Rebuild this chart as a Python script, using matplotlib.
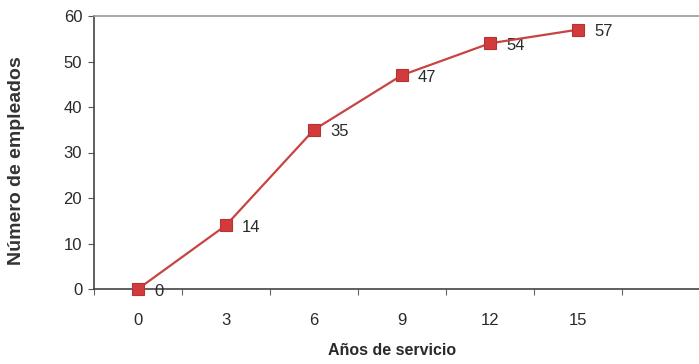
import matplotlib
matplotlib.use('Agg')
import matplotlib.pyplot as plt

# años de servicio vs número de empleados (acumulado)
anos = ['0', '3', '6', '9', '12', '15']
empleados = [0, 14, 35, 47, 54, 57]
y_ticks = [0, 10, 20, 30, 40, 50, 60]

plt.rcParams['font.family'] = ['Liberation Sans', 'DejaVu Sans']

fig = plt.figure(figsize=(6.99, 3.64), dpi=100, facecolor='white')
# plot area runs slightly past the right edge of the figure (7 category slots)
ax = fig.add_axes([94 / 699, 1 - 289 / 364, 616 / 699, 273 / 364])

x = list(range(len(anos)))
ax.plot(x, empleados, color='#c74442', lw=1.6, marker='s', markersize=9,
        markerfacecolor='#d23b3b', markeredgecolor='#b83232', markeredgewidth=0.8,
        zorder=5, clip_on=False)

for xi, v in zip(x, empleados):
    ax.annotate(str(v), (xi, v), xytext=(11.5, -1.5), textcoords='offset points',
                ha='left', va='center', fontsize=12, color='#2a2a2a')

ax.set_xlim(-0.5, 6.5)
ax.set_ylim(0, 60)
ax.set_xticks(x)
ax.set_xticklabels(anos)
ax.set_xticks([i + 0.5 for i in range(-1, 7)], minor=True)
ax.tick_params(axis='x', which='major', length=0, pad=17, labelsize=12,
               colors='#2a2a2a')
ax.tick_params(axis='x', which='minor', length=4, direction='out', width=0.8,
               color='#666666')
ax.set_yticks(y_ticks)
ax.tick_params(axis='y', which='major', length=4, direction='out', width=0.8,
               color='#555555', labelsize=12, labelcolor='#2a2a2a', pad=4.5)

ax.spines['left'].set_color('#444444')
ax.spines['bottom'].set_color('#444444')
ax.spines['left'].set_linewidth(1.2)
ax.spines['bottom'].set_linewidth(1.2)
ax.spines['top'].set_color('#9a9a9a')
ax.spines['top'].set_linewidth(1.2)
ax.spines['right'].set_visible(False)

ax.set_ylabel('Número de empleados', fontsize=14, fontweight='bold',
              color='#333333')
ax.set_xlabel('Años de servicio', fontsize=11.5, fontweight='bold',
              color='#2a2a2a')
ax.yaxis.set_label_coords(-0.112, 0.47)
ax.xaxis.set_label_coords(0.484, -0.198)

fig.savefig('out.png', dpi=100, facecolor='white')
